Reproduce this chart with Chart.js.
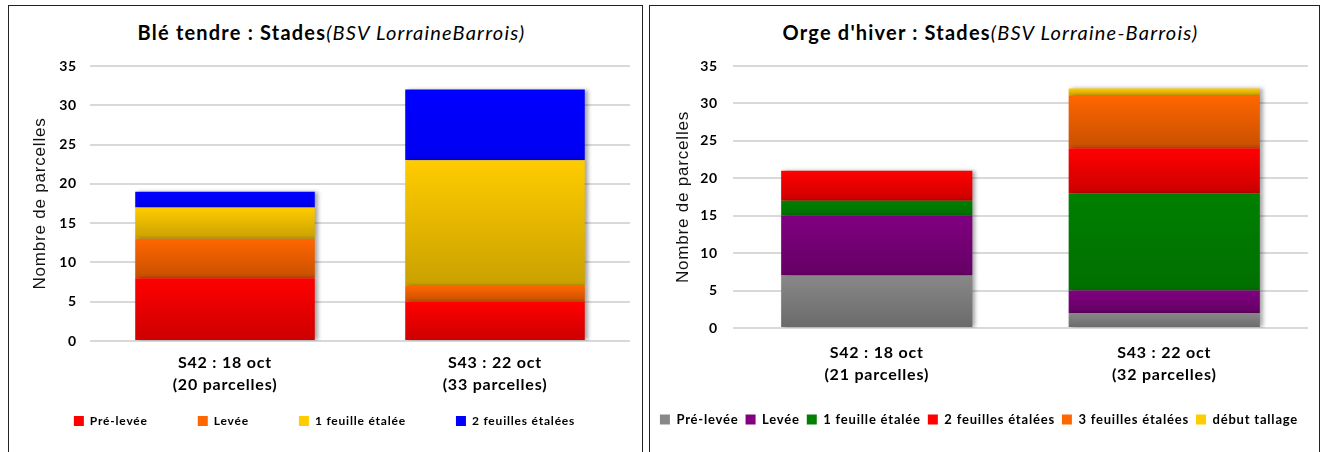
<!DOCTYPE html>
<html>
<head>
<meta charset="utf-8">
<script src="https://cdn.jsdelivr.net/npm/chart.js@4.4.0/dist/chart.umd.min.js"></script>
<style>
  body { margin: 0; width: 1320px; height: 452px; background: #fff; overflow: hidden; font-family: Lato, 'Open Sans', sans-serif; }
  .panel { position: absolute; top: 5px; height: 470px; border: 1px solid #222; background: #fff; }
  .titre { position: absolute; top: 14px; left: 12px; right: 0; text-align: center; font-size: 20px; line-height: 24px; letter-spacing: 1.2px; color: #000; white-space: nowrap; }
  .titre i { font-style: italic; }
  .zone { position: absolute; left: 0; top: 0; right: 0; }
</style>
</head>
<body>
<div class="panel" style="left:8px; width:633px;">
  <div class="titre"><b>Blé tendre : Stades</b><i>(BSV LorraineBarrois)</i></div>
  <div class="zone" style="height:431px;"><canvas id="chartBle"></canvas></div>
</div>
<div class="panel" style="left:649px; width:669px;">
  <div class="titre"><b>Orge d'hiver : Stades</b><i>(BSV Lorraine-Barrois)</i></div>
  <div class="zone" style="height:430px;"><canvas id="chartOrge"></canvas></div>
</div>
<script>
// --- Données ---
const ticksY = [0, 5, 10, 15, 20, 25, 30, 35];

// Blé tendre
const semainesBle = [['S42 : 18 oct', '(20 parcelles)'], ['S43 : 22 oct', '(33 parcelles)']];
const stadesBle = ['Pré-levée', 'Levée', '1 feuille étalée', '2 feuilles étalées'];
const blePreLevee = [8, 5];
const bleLevee = [5, 2];
const ble1Feuille = [4, 16];
const ble2Feuilles = [2, 9];

// Orge d'hiver
const semainesOrge = [['S42 : 18 oct', '(21 parcelles)'], ['S43 : 22 oct', '(32 parcelles)']];
const stadesOrge = ['Pré-levée', 'Levée', '1 feuille étalée', '2 feuilles étalées', '3 feuilles étalées', 'début tallage'];
const orgePreLevee = [7, 2];
const orgeLevee = [8, 3];
const orge1Feuille = [2, 13];
const orge2Feuilles = [4, 6];
const orge3Feuilles = [0, 7];
const orgeDebutTallage = [0, 1];

// Couleurs (haut / bas du dégradé)
const couleurs = {
    gris: ['#888888', '#6a6a6a'],
    violet: ['#800080', '#650065'],
    vert: ['#008000', '#006f00'],
    rouge: ['#ff0000', '#cc0000'],
    orange: ['#ff6600', '#c85000'],
    jaune: ['#ffcc00', '#c9a000'],
    bleu: ['#0000ff', '#0000f0']
};

// Dégradé vertical pour chaque segment empilé
function degrade(pair) {
    return function(ctx) {
        const chart = ctx.chart;
        if (ctx.dataIndex === undefined || !chart.chartArea || !chart.scales.y) return pair[0];
        const datasets = chart.data.datasets;
        let debut = 0;
        for (let i = 0; i < ctx.datasetIndex; i++) debut += datasets[i].data[ctx.dataIndex];
        const fin = debut + datasets[ctx.datasetIndex].data[ctx.dataIndex];
        const yHaut = chart.scales.y.getPixelForValue(fin);
        const yBas = chart.scales.y.getPixelForValue(debut);
        if (yHaut === yBas) return pair[0];
        const g = chart.ctx.createLinearGradient(0, yHaut, 0, yBas);
        g.addColorStop(0, pair[0]);
        g.addColorStop(1, pair[1]);
        return g;
    };
}

// Ombre légère à droite des barres
const ombreBarres = {
    id: 'ombreBarres',
    beforeDatasetsDraw(chart) {
        const c = chart.ctx;
        c.save();
        c.shadowColor = 'rgba(0,0,0,0.35)';
        c.shadowBlur = 4;
        c.shadowOffsetX = 3;
        c.shadowOffsetY = 0;
    },
    afterDatasetsDraw(chart) {
        chart.ctx.restore();
    }
};

// Texte un peu plus large (comme la police d'origine)
const espacement = {
    id: 'espacement',
    beforeUpdate(chart) { chart.ctx.letterSpacing = '0.8px'; },
    beforeLayout(chart) { chart.ctx.letterSpacing = '0.8px'; },
    beforeDraw(chart) { chart.ctx.letterSpacing = '0.8px'; }
};

// Les étiquettes sur deux lignes débordent sur la zone de la légende
const etiquettesX = {
    id: 'etiquettesX',
    afterLayout(chart) {
        const x = chart.scales.x;
        x.bottom = x.top + 70;
    }
};

function makeDatasets(labels, series, palette) {
    return labels.map((label, i) => ({
        label: label,
        data: series[i],
        backgroundColor: degrade(palette[i]),
        couleurLegende: palette[i][0],
        borderWidth: 0,
        barPercentage: 1,
        categoryPercentage: 0.665
    }));
}

function renderChart(id, labels, datasets, cfg) {
    const ctx = document.getElementById(id).getContext('2d');
    return new Chart(ctx, {
        type: 'bar',
        data: { labels: labels, datasets: datasets },
        plugins: [ombreBarres, espacement, etiquettesX],
        options: {
            responsive: true,
            maintainAspectRatio: false,
            animation: false,
            layout: { padding: cfg.padding },
            plugins: {
                title: { display: false },
                tooltip: { enabled: false },
                legend: {
                    position: 'bottom',
                    labels: {
                        boxWidth: 10,
                        boxHeight: 10,
                        padding: cfg.legendPadding,
                        color: '#000',
                        font: { family: 'Lato', size: cfg.legendFont, weight: 'bold' },
                        generateLabels: chart => {
                            const items = Chart.defaults.plugins.legend.labels.generateLabels(chart);
                            items.forEach(item => {
                                item.fillStyle = chart.data.datasets[item.datasetIndex].couleurLegende;
                            });
                            return items;
                        }
                    }
                }
            },
            scales: {
                x: {
                    stacked: true,
                    afterFit: scale => { scale.height = cfg.xHeight; },
                    grid: { display: false },
                    border: { display: false },
                    ticks: {
                        color: '#000',
                        padding: cfg.xPadding,
                        font: { family: 'Lato', size: 16, weight: 'bold', lineHeight: 1.375 }
                    }
                },
                y: {
                    stacked: true,
                    min: 0,
                    max: 35,
                    afterBuildTicks: axis => { axis.ticks = ticksY.map(v => ({ value: v })); },
                    afterFit: scale => { scale.width = cfg.yWidth; },
                    grid: { color: '#d9d9d9', lineWidth: 2, drawTicks: false },
                    border: { display: false },
                    ticks: {
                        color: '#000',
                        padding: cfg.yPadding,
                        font: { family: 'Lato', size: 14, weight: 'bold' }
                    },
                    title: {
                        display: true,
                        text: 'Nombre de parcelles',
                        color: '#111',
                        padding: { top: cfg.titlePadding, bottom: 0 },
                        font: { family: 'Liberation Sans', size: 17 }
                    }
                }
            }
        }
    });
}

document.addEventListener('DOMContentLoaded', () => {
    renderChart('chartBle', semainesBle,
        makeDatasets(stadesBle, [blePreLevee, bleLevee, ble1Feuille, ble2Feuilles],
            [couleurs.rouge, couleurs.orange, couleurs.jaune, couleurs.bleu]),
        { padding: { top: 60, left: 10, right: 12, bottom: 0 }, yWidth: 71, yPadding: 13, titlePadding: 11,
          xHeight: 24, xPadding: 3, legendPadding: 50, legendFont: 12 });

    renderChart('chartOrge', semainesOrge,
        makeDatasets(stadesOrge, [orgePreLevee, orgeLevee, orge1Feuille, orge2Feuilles, orge3Feuilles, orgeDebutTallage],
            [couleurs.gris, couleurs.violet, couleurs.vert, couleurs.rouge, couleurs.orange, couleurs.jaune]),
        { padding: { top: 60, left: 0, right: 11, bottom: 0 }, yWidth: 83, yPadding: 15, titlePadding: 23,
          xHeight: 78, xPadding: 6, legendPadding: 7, legendFont: 13 });
});
</script>
</body>
</html>
